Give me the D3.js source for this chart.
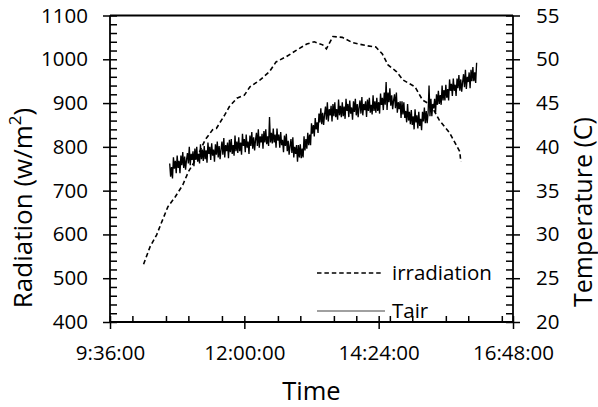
<!DOCTYPE html>
<html><head><meta charset="utf-8">
<script src="https://cdn.jsdelivr.net/npm/d3@7"></script>
<style>
html,body{margin:0;padding:0;background:#fff;}
svg{display:block;font-family:"Open Sans",sans-serif;}
</style></head>
<body>
<svg id="c" width="598" height="407"></svg>
<script>
// ---- data ----
const xTicks = ["9:36:00","12:00:00","14:24:00","16:48:00"];
const yLeftTicks = [400,500,600,700,800,900,1000,1100];
const yRightTicks = [20,25,30,35,40,45,50,55];

const irrTimes = ["10:12","10:19","10:26","10:31","10:38","10:46","10:54","11:00","11:09","11:18","11:26","11:30","11:39","11:44","11:52","12:00","12:06","12:17","12:27","12:34","12:45","12:56","13:07","13:15","13:24","13:28","13:35","13:45","13:56","14:11","14:21","14:28","14:34","14:43","14:50","15:03","15:11","15:20","15:29","15:40","15:51","15:52"];
const irrValues = [532,572,599,626,663,686,713,743,775,816,839,842,873,892,911,918,937,953,972,994,1006,1021,1035,1040,1033,1024,1052,1050,1038,1031,1028,1012,987,972,953,937,907,896,861,832,789,766];

const tairStart = "10:40";   // logger start
const tairStepMin = 1;       // logging interval (minutes)
const tairValues = [
38.1,36.6,37.7,36.4,38.8,37.5,38.4,37.0,39.0,37.6,
38.4,37.0,39.0,37.9,39.4,37.6,38.9,37.4,38.5,39.3,
38.1,40.0,37.9,39.2,38.5,39.5,37.8,39.8,38.5,40.0,
38.3,39.2,38.1,40.3,38.6,39.7,38.4,40.1,38.6,39.6,
38.2,40.5,39.2,40.0,38.5,40.4,39.0,39.7,38.3,40.3,
39.1,40.6,38.8,40.1,38.6,39.7,40.6,39.1,41.0,38.8,
40.2,39.5,40.5,38.7,40.8,39.4,40.9,39.2,40.2,39.0,
41.3,39.5,40.6,39.3,41.1,39.5,40.5,39.1,41.5,40.1,
40.9,39.4,41.4,39.9,40.6,39.2,41.3,40.1,41.7,39.8,
41.1,39.6,40.8,41.6,40.1,42.0,39.9,41.2,40.5,41.5,
39.8,41.8,40.5,42.0,40.3,41.2,40.1,43.4,40.5,41.6,
40.4,42.1,40.5,41.4,39.9,42.1,40.7,41.4,39.9,41.7,
40.2,40.8,39.4,41.3,40.1,41.5,39.5,40.7,39.1,40.1,
40.9,39.3,41.1,38.8,40.0,39.2,40.2,38.3,40.2,38.8,
40.3,38.7,39.8,38.8,41.2,39.6,40.9,39.8,41.6,40.2,
41.4,40.2,42.7,41.5,42.5,41.2,43.3,42.0,42.8,41.6,
43.8,42.8,44.4,42.6,43.9,42.5,43.7,44.6,43.1,45.1,
42.9,44.3,43.6,44.7,42.9,44.9,43.5,45.1,43.4,44.3,
43.1,45.4,43.6,44.7,43.4,45.1,43.5,44.6,43.2,45.5,
44.1,44.9,43.4,45.3,43.8,44.5,43.1,45.2,44.0,45.5,
43.6,44.9,43.4,44.5,45.3,43.8,45.7,43.6,44.9,44.2,
45.2,43.4,45.4,44.1,45.6,43.9,44.8,43.7,45.9,44.1,
45.2,43.9,45.6,44.1,45.1,43.8,46.1,44.8,45.6,44.2,
46.2,44.8,47.4,44.2,46.2,45.1,46.7,44.7,45.9,44.3,
45.3,46.0,44.4,46.2,43.9,45.1,44.3,45.2,43.3,45.2,
43.7,45.1,43.3,44.1,42.8,44.9,43.0,44.0,42.6,44.2,
42.5,43.5,42.0,44.3,42.8,43.6,42.1,44.0,42.4,43.2,
41.9,44.0,42.9,44.5,42.7,44.1,42.7,43.9,47.0,43.5,
45.5,43.5,44.9,44.4,45.5,43.9,46.0,44.8,46.4,44.9,
45.9,44.8,47.0,45.3,46.5,45.3,47.1,45.6,46.6,45.3,
47.7,46.4,47.2,45.8,47.8,46.4,47.1,45.8,47.8,46.7,
48.2,46.4,47.7,46.3,47.4,48.3,46.8,48.8,46.6,48.0,
47.4,48.5,46.7,48.8,47.5,49.1,47.5,48.5,47.3,49.6];

const seriesNames = ["irradiation","Tair"];

// ---- setup ----
const parse = d3.timeParse("%H:%M");
const parseS = d3.timeParse("%H:%M:%S");
const svg = d3.select("#c");
const L = 110, R = 513, T = 15.5, B = 322;

const x = d3.scaleTime().domain([parseS("9:36:00"), parseS("16:48:00")]).range([L, R]);
const yL = d3.scaleLinear().domain([400,1100]).range([B, T]);
const yR = d3.scaleLinear().domain([20,55]).range([B, T]);

const xMajor = xTicks.map(parseS);
const xMinor = d3.timeMinute.every(36).range(parseS("9:36:00"), parseS("16:48:01")).filter(d => !xMajor.some(m => +m === +d));
const yLMinor = d3.range(400,1101,20).filter(v => v % 100 !== 0);
const yRMinor = d3.range(20,56,1).filter(v => v % 5 !== 0);

const fmtX = d3.timeFormat("%-H:%M:%S");
const tickFont = "20.5px";

function styleAxis(g){
  g.select(".domain").remove();
  g.selectAll("line").attr("stroke","#000").attr("stroke-width",1.5);
  g.selectAll("text").attr("font-size",tickFont).attr("fill","#000").attr("font-family","'Open Sans',sans-serif");
}

svg.append("g").attr("transform",`translate(${L},0)`)
  .call(d3.axisLeft(yL).tickValues(yLeftTicks).tickSize(7).tickPadding(15).tickFormat(d3.format("d")))
  .call(styleAxis);
svg.append("g").attr("transform",`translate(${L},0)`)
  .call(d3.axisRight(yL).tickValues(yLeftTicks.concat(yLMinor)).tickSize(7).tickFormat(""))
  .call(styleAxis);

svg.append("g").attr("transform",`translate(${R},0)`)
  .call(d3.axisRight(yR).tickValues(yRightTicks).tickSize(7).tickPadding(16))
  .call(styleAxis);
svg.append("g").attr("transform",`translate(${R},0)`)
  .call(d3.axisLeft(yR).tickValues(yRightTicks.concat(yRMinor)).tickSize(7).tickFormat(""))
  .call(styleAxis);

svg.append("g").attr("transform",`translate(0,${B})`)
  .call(d3.axisBottom(x).tickValues(xMajor).tickSize(7).tickPadding(16).tickFormat(fmtX))
  .call(styleAxis);
svg.append("g").attr("transform",`translate(0,${B})`)
  .call(d3.axisTop(x).tickValues(xMajor.concat(xMinor)).tickSize(6).tickFormat(""))
  .call(styleAxis);

const frame = svg.append("g").attr("stroke","#000").attr("stroke-width",1.8).attr("fill","none");
frame.append("line").attr("x1",L).attr("x2",R).attr("y1",T).attr("y2",T);
frame.append("line").attr("x1",L).attr("x2",R).attr("y1",B).attr("y2",B);
frame.append("line").attr("x1",L).attr("x2",L).attr("y1",T).attr("y2",B);
frame.append("line").attr("x1",R).attr("x2",R).attr("y1",T).attr("y2",B);

const irr = irrTimes.map((t,i)=>({t:parse(t), v:irrValues[i]}));
const t0 = parse(tairStart);
const tair = tairValues.map((v,i)=>({t:d3.timeMinute.offset(t0, i*tairStepMin), v}));

svg.append("path").datum(tair)
  .attr("fill","none").attr("stroke","#000").attr("stroke-width",1.35)
  .attr("d", d3.line().x(d=>x(d.t)).y(d=>yR(d.v)));

svg.append("path").datum(irr)
  .attr("fill","none").attr("stroke","#000").attr("stroke-width",1.6)
  .attr("stroke-dasharray","4.5,2.9")
  .attr("d", d3.line().x(d=>x(d.t)).y(d=>yL(d.v)));

const lg = svg.append("g");
lg.append("line").attr("x1",317).attr("x2",383).attr("y1",273).attr("y2",273)
  .attr("stroke","#000").attr("stroke-width",1.4).attr("stroke-dasharray","4.5,2.9");
lg.append("text").attr("x",392).attr("y",280).attr("font-size",tickFont).text(seriesNames[0]);
lg.append("line").attr("x1",317).attr("x2",385).attr("y1",311).attr("y2",311)
  .attr("stroke","#808080").attr("stroke-width",1.4);
lg.append("text").attr("x",392).attr("y",318).attr("font-size",tickFont).text(seriesNames[1]);

svg.append("text").attr("x",(L+R)/2).attr("y",399.5).attr("text-anchor","middle")
  .attr("font-size","25.5px").text("Time");
const yt = svg.append("text").attr("transform","translate(32,208) rotate(-90)")
  .attr("text-anchor","middle").attr("font-size","26px");
yt.append("tspan").text("Radiation (w/m");
yt.append("tspan").attr("baseline-shift","super").attr("font-size","17px").text("2");
yt.append("tspan").text(")");
svg.append("text").attr("transform","translate(591.5,212) rotate(-90)")
  .attr("text-anchor","middle").attr("font-size","25px").text("Temperature (C)");
</script>
</body></html>
